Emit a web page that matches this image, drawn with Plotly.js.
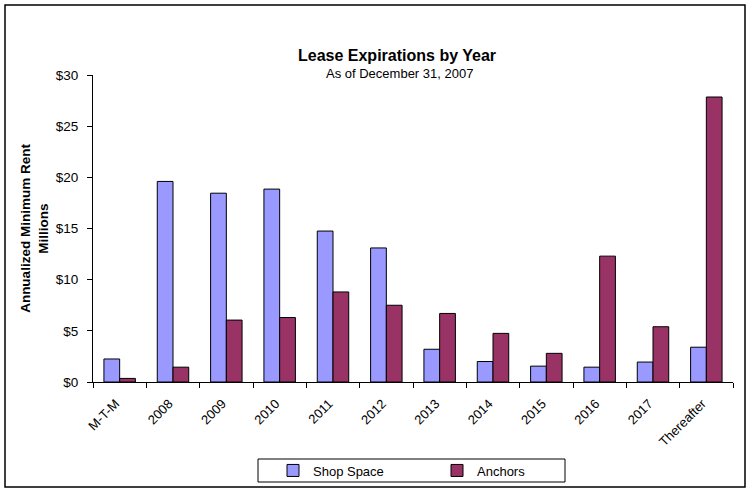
<!DOCTYPE html>
<html>
<head>
<meta charset="utf-8">
<script src="https://cdn.plot.ly/plotly-3.0.1.min.js"></script>
<style>html,body{margin:0;padding:0;background:#fff;}#chart{width:751px;height:493px;}</style>
</head>
<body>
<div id="chart"></div>
<script>
const categories = ["M-T-M","2008","2009","2010","2011","2012","2013","2014","2015","2016","2017","Thereafter"];
const shopSpace = [2.25, 19.6, 18.45, 18.85, 14.75, 13.1, 3.2, 2.0, 1.55, 1.45, 1.95, 3.4];
const anchors   = [0.35, 1.45, 6.05, 6.3, 8.8, 7.5, 6.7, 4.75, 2.8, 12.3, 5.4, 27.85];
const yTicks = [0, 5, 10, 15, 20, 25, 30];

const L = 93, R = 733, T = 75, B = 382, W = 751, H = 493;
const px = x => (x - L) / (R - L);
const py = y => (B - y) / (B - T);

const font = "Liberation Sans, Arial, sans-serif";

const traces = [
  {type: "bar", name: "Shop Space", x: categories, y: shopSpace,
   marker: {color: "#9999FF", line: {color: "#000", width: 1}}},
  {type: "bar", name: "Anchors", x: categories, y: anchors,
   marker: {color: "#993366", line: {color: "#000", width: 1}}}
];

const layout = {
  width: W, height: H,
  margin: {l: L, r: W - R, t: T, b: H - B, pad: 0, autoexpand: false},
  paper_bgcolor: "#fff", plot_bgcolor: "#fff",
  font: {family: font, size: 13, color: "#000"},
  barmode: "group", bargap: 0.41, bargroupgap: 0,
  title: {text: "Lease Expirations by Year", x: px(397), xref: "paper", xanchor: "center",
          y: 1 - 55 / H, yref: "container", yanchor: "middle",
          font: {family: font, size: 16, weight: "bold", color: "#000"}},
  annotations: [
    {text: "As of December 31, 2007", xref: "paper", yref: "paper", x: px(399), y: py(73),
     xanchor: "center", yanchor: "middle", showarrow: false,
     font: {family: font, size: 13, color: "#000"}}
  ],
  xaxis: {type: "category", showline: true, linecolor: "#000", linewidth: 1,
          ticks: "outside", tickson: "boundaries", ticklen: 5, tickcolor: "#000",
          tickangle: -45, showgrid: false, zeroline: false, automargin: false,
          ticklabelstandoff: 8, ticklabelshift: -4,
          tickfont: {family: font, size: 13}},
  yaxis: {range: [0, 30], tickvals: yTicks, ticktext: yTicks.map(v => "$" + v),
          showline: true, linecolor: "#000", linewidth: 1, automargin: false,
          ticks: "outside", ticklen: 5, tickcolor: "#000", ticklabelstandoff: 6,
          showgrid: false, zeroline: false, tickfont: {family: font, size: 13.5},
          title: {text: "Annualized Minimum Rent<br>Millions", standoff: 4,
                  font: {family: font, size: 13.5, weight: "bold"}}},
  showlegend: true,
  legend: {orientation: "h", x: px(273), xanchor: "left", y: py(470.5), yanchor: "middle",
           entrywidth: 119, entrywidthmode: "pixels", itemwidth: 30,
           bgcolor: "rgba(0,0,0,0)", borderwidth: 0, font: {family: font, size: 13},
           traceorder: "normal"},
  shapes: [
    {type: "rect", xref: "paper", yref: "paper", x0: px(258), x1: px(565), y0: py(482), y1: py(459),
     line: {color: "#000", width: 1}},
    {type: "rect", xref: "paper", yref: "paper", x0: px(5), x1: px(745), y0: py(487), y1: py(5),
     line: {color: "#000", width: 1.5}}
  ]
};

Plotly.newPlot("chart", traces, layout, {displayModeBar: false, staticPlot: true});
</script>
</body>
</html>
